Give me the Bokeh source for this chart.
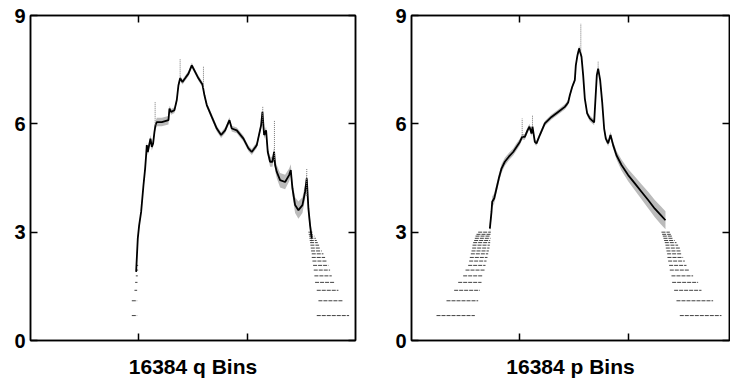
import numpy as np
from bokeh.plotting import figure
from bokeh.layouts import row
from bokeh.models import FixedTicker, LinearAxis, Range1d
from bokeh.embed import file_html
from bokeh.resources import INLINE

# ---------------- data ----------------
Y_TICKS = [0, 3, 6, 9]
X_TICKS = [5461, 10923]
N_BINS = 16384

# log(count) levels seen as horizontal dotted rows
LEVELS = [0.69, 1.10, 1.39, 1.61, 1.79, 1.95, 2.08, 2.20, 2.30, 2.40,
          2.48, 2.56, 2.64, 2.71, 2.77, 2.83, 2.89, 2.94, 3.00]

# ---- q panel: main ridge ----
q_bin = [5325, 5409, 5477, 5577, 5695, 5779, 5829, 5863, 5913, 5981,
         6048, 6115, 6182, 6249, 6300, 6367, 6619, 6955, 7005, 7089,
         7257, 7375, 7459, 7543, 7661, 7795, 7963, 8131, 8299, 8467,
         8669, 8769, 8887, 9139, 9391, 9609, 9811, 10029, 10147, 10399,
         10735, 10987, 11155, 11407, 11625, 11693, 11777, 11877, 11961, 12079,
         12197, 12281, 12331, 12415, 12583, 12835, 13037, 13121, 13205, 13339,
         13507, 13709, 13843, 13927, 14011, 14095, 14179]
q_val = [1.90, 2.83, 3.19, 3.56, 4.30, 4.76, 5.13, 5.41, 5.22, 5.41,
         5.59, 5.36, 5.46, 5.78, 5.96, 6.05, 6.05, 6.10, 6.42, 6.33,
         6.38, 6.66, 7.07, 7.26, 7.16, 7.26, 7.39, 7.62, 7.44, 7.26,
         7.09, 6.79, 6.52, 6.19, 5.87, 5.69, 5.82, 6.10, 5.87, 5.82,
         5.59, 5.32, 5.22, 5.41, 5.96, 6.33, 5.69, 5.82, 5.22, 4.95,
         4.95, 5.22, 4.86, 4.67, 4.44, 4.39, 4.58, 4.72, 4.21, 3.75,
         3.61, 3.75, 4.12, 4.49, 3.65, 3.19, 2.83]
q_spread = [0.05, 0.05, 0.05, 0.06, 0.06, 0.06, 0.07, 0.08, 0.10, 0.10,
            0.10, 0.10, 0.10, 0.10, 0.11, 0.12, 0.12, 0.12, 0.08, 0.08,
            0.08, 0.07, 0.07, 0.07, 0.07, 0.07, 0.07, 0.07, 0.07, 0.07,
            0.07, 0.07, 0.07, 0.08, 0.08, 0.08, 0.08, 0.08, 0.08, 0.08,
            0.08, 0.08, 0.08, 0.08, 0.08, 0.08, 0.10, 0.10, 0.12, 0.14,
            0.14, 0.14, 0.16, 0.18, 0.20, 0.20, 0.18, 0.16, 0.20, 0.22,
            0.24, 0.22, 0.20, 0.15, 0.20, 0.18, 0.15]
# thin spikes: bin, base value, top value
q_spike_bin = [6283, 7543, 8719, 11709, 12297, 13927]
q_spike_lo = [5.96, 7.26, 7.00, 6.00, 5.00, 4.00]
q_spike_hi = [6.61, 7.81, 7.58, 6.47, 6.10, 4.76]
# dotted rows at low counts: left and right flanks
q_left_lvl = [0.69, 1.10, 1.39, 1.61, 1.79, 1.95, 2.08]
q_left_x0 = [5107, 5107, 5241, 5275, 5309, 5325, 5325]
q_left_x1 = [5376, 5376, 5376, 5393, 5409, 5426, 5426]
q_right_x0 = [14431, 14515, 14431, 14347, 14313, 14280, 14246, 14213, 14179, 14179,
              14145, 14129, 14112, 14095, 14078, 14061, 14045, 14028, 14011]
q_right_x1 = [16061, 15775, 15523, 15355, 15187, 15103, 15019, 14935, 14851, 14767,
              14683, 14616, 14549, 14482, 14431, 14381, 14314, 14263, 14213]

# ---- p panel: main ridge ----
p_bin = [3949, 4033, 4067, 4167, 4285, 4403, 4537, 4705, 4907, 5125,
         5293, 5461, 5579, 5713, 5847, 5948, 6049, 6099, 6217, 6301,
         6469, 6721, 7057, 7393, 7729, 7897, 7981, 8099, 8233, 8283,
         8367, 8451, 8569, 8653, 8737, 8855, 8989, 9207, 9342, 9409,
         9510, 9611, 9711, 9795, 9913, 10031, 10165, 10333, 10585, 10921,
         11257, 11593, 11929, 12265, 12567, 12803]
p_val = [3.10, 3.56, 3.84, 3.93, 4.21, 4.49, 4.76, 4.95, 5.09, 5.22,
         5.36, 5.50, 5.64, 5.64, 5.82, 5.92, 5.73, 5.92, 5.50, 5.46,
         5.69, 6.01, 6.19, 6.33, 6.47, 6.59, 6.79, 7.02, 7.21, 7.62,
         7.90, 8.09, 7.86, 7.35, 6.70, 6.29, 6.15, 6.04, 7.35, 7.53,
         7.21, 6.61, 5.87, 5.59, 5.46, 5.69, 5.41, 5.13, 4.86, 4.58,
         4.35, 4.12, 3.89, 3.65, 3.47, 3.33]
p_spread = [0.15, 0.15, 0.15, 0.14, 0.13, 0.12, 0.12, 0.11, 0.10, 0.10,
            0.10, 0.09, 0.08, 0.08, 0.08, 0.08, 0.08, 0.08, 0.07, 0.07,
            0.07, 0.07, 0.07, 0.07, 0.07, 0.07, 0.06, 0.06, 0.06, 0.06,
            0.07, 0.08, 0.06, 0.06, 0.06, 0.07, 0.08, 0.08, 0.06, 0.06,
            0.06, 0.06, 0.07, 0.08, 0.08, 0.09, 0.10, 0.12, 0.15, 0.17,
            0.19, 0.21, 0.23, 0.24, 0.25, 0.25]
p_spike_bin = [5579, 6099, 8535, 9409]
p_spike_lo = [5.64, 5.92, 8.00, 7.53]
p_spike_hi = [6.15, 6.25, 8.78, 7.72]
p_left_x0 = [1261, 1765, 2151, 2353, 2605, 2723, 2857, 2907, 2941, 2991,
             3025, 3059, 3076, 3109, 3159, 3193, 3227, 3277, 3361]
p_left_x1 = [3193, 3361, 3445, 3529, 3613, 3697, 3731, 3781, 3831, 3865,
             3899, 3932, 3949, 3966, 3966, 3983, 3983, 4000, 4000]
p_right_x0 = [13525, 13357, 13239, 13139, 13105, 13021, 12987, 12937, 12903, 12887,
              12853, 12819, 12803, 12769, 12735, 12701, 12668, 12634, 12601]
p_right_x1 = [15625, 15205, 14617, 14449, 14197, 14029, 13861, 13777, 13693, 13609,
              13575, 13525, 13441, 13357, 13273, 13189, 13139, 13071, 13021]

FONT = "Liberation Sans"


def panel(label, x_end, left, right, fw, curve_x, curve_y, spread,
          sx, slo, shi, segs):
    p = figure(output_backend="svg", toolbar_location=None,
               frame_width=fw, frame_height=325,
               min_border_left=left, min_border_right=right,
               min_border_top=15, min_border_bottom=36,
               x_range=Range1d(0, x_end), y_range=Range1d(0, 9))
    p.grid.visible = False
    p.outline_line_color = "black"
    p.outline_line_width = 1.5
    p.background_fill_color = "white"
    p.border_fill_color = "white"

    cx = np.array(curve_x, float)
    cy = np.array(curve_y, float)
    sp = np.array(spread, float)
    p.varea(x=cx, y1=cy - sp, y2=cy + sp, fill_color="#555555", fill_alpha=0.4)
    p.line(cx, cy, line_color="black", line_width=1.8)
    p.segment(x0=sx, y0=slo, x1=sx, y1=shi, line_color="#777777",
              line_width=1, line_dash="1 1")
    for lv, x0, x1 in segs:
        p.segment(x0=x0, y0=lv, x1=x1, y1=lv, line_color="black",
                  line_width=1, line_alpha=0.75, line_dash="4 1")

    for ax in (p.xaxis[0], p.yaxis[0]):
        ax.axis_line_width = 1.5
        ax.major_tick_line_width = 1.5
        ax.major_tick_in = 7
        ax.major_tick_out = 0
        ax.minor_tick_line_color = None
        ax.major_label_text_font = FONT
        ax.major_label_text_font_style = "bold"
        ax.major_label_text_font_size = "20px"
        ax.major_label_text_color = "black"
    p.yaxis[0].ticker = FixedTicker(ticks=Y_TICKS)
    p.yaxis[0].major_label_standoff = 5
    p.xaxis[0].ticker = FixedTicker(ticks=X_TICKS)
    p.xaxis[0].major_label_overrides = {t: "" for t in X_TICKS}
    p.xaxis[0].major_label_text_font_size = "1px"
    p.xaxis[0].axis_label = label
    p.xaxis[0].axis_label_text_font = FONT
    p.xaxis[0].axis_label_text_font_style = "bold"
    p.xaxis[0].axis_label_text_font_size = "21px"
    p.xaxis[0].axis_label_text_color = "black"
    p.xaxis[0].axis_label_standoff = 14

    for side, ticks in (("right", Y_TICKS), ("above", X_TICKS)):
        a = LinearAxis(ticker=FixedTicker(ticks=ticks))
        a.major_label_overrides = {t: "" for t in ticks}
        a.major_label_text_font_size = "1px"
        a.major_label_standoff = 0
        a.axis_line_width = 1.5
        a.major_tick_line_width = 1.5
        a.major_tick_in = 7
        a.major_tick_out = 0
        a.minor_tick_line_color = None
        p.add_layout(a, side)
    return p


q_segs = list(zip(q_left_lvl, q_left_x0, q_left_x1)) + \
    list(zip(LEVELS, q_right_x0, q_right_x1))
p_segs = list(zip(LEVELS, p_left_x0, p_left_x1)) + \
    list(zip(LEVELS, p_right_x0, p_right_x1))

left = panel("16384 q Bins", N_BINS, 30, 32, 325, q_bin, q_val, q_spread,
             q_spike_bin, q_spike_lo, q_spike_hi, q_segs)
right = panel("16384 p Bins", 16030, 24, 1, 318, p_bin, p_val, p_spread,
              p_spike_bin, p_spike_lo, p_spike_hi, p_segs)

layout = row(left, right)
open("out.html", "w").write(file_html(layout, INLINE))
